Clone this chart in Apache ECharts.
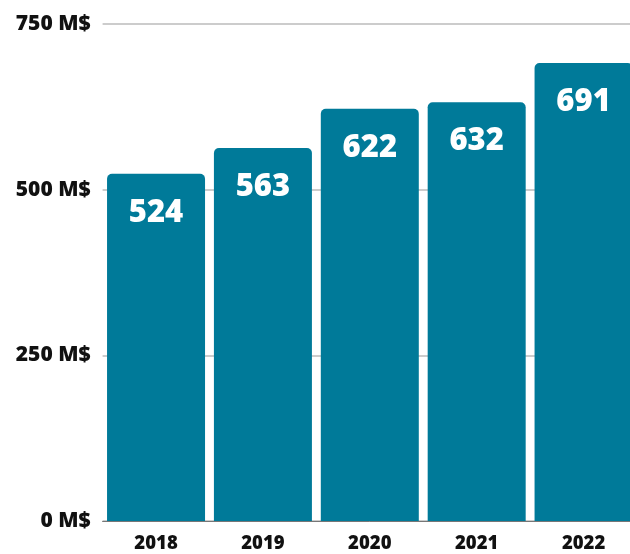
<!DOCTYPE html>
<html><head><meta charset="utf-8">
<script src="https://cdn.jsdelivr.net/npm/echarts@6/dist/echarts.min.js"></script>
<style>html,body{margin:0;padding:0;background:#fff;overflow:hidden;width:630px;height:554px}#c{width:637px;height:554px}</style>
</head><body><div id="c"></div>
<script>
const categories = ['2018','2019','2020','2021','2022'];
const values = [524, 563, 622, 632, 691];
const yTicks = [0, 250, 500, 750];
const chart = echarts.init(document.getElementById('c'), null, {renderer:'canvas'});
chart.setOption({
  animation:false,
  grid:{left:102.6, right:0, top:24, bottom:33, containLabel:false},
  xAxis:{type:'category', data:categories,
    axisTick:{show:false},
    axisLine:{show:true, lineStyle:{color:'#777', width:1}},
    axisLabel:{color:'#111', fontFamily:'Open Sans', fontWeight:800, fontSize:18.5, margin:13.5}},
  yAxis:{type:'value', min:0, max:750, interval:250,
    axisLine:{show:false}, axisTick:{show:false},
    splitLine:{lineStyle:{color:'#bbb', width:1.5}},
    axisLabel:{color:'#111', fontFamily:'Open Sans', fontWeight:800, fontSize:21, margin:12,
      formatter:v=> yTicks.includes(v) ? v + ' M$' : ''}},
  series:[{type:'bar', data:values, barWidth:98,
    itemStyle:{color:'#007A99', borderRadius:[5,5,0,0]},
    label:{show:true, position:'insideTop', distance:23.5, color:'#fff',
      fontFamily:'Open Sans', fontWeight:800, fontSize:31}}]
});
</script></body></html>
